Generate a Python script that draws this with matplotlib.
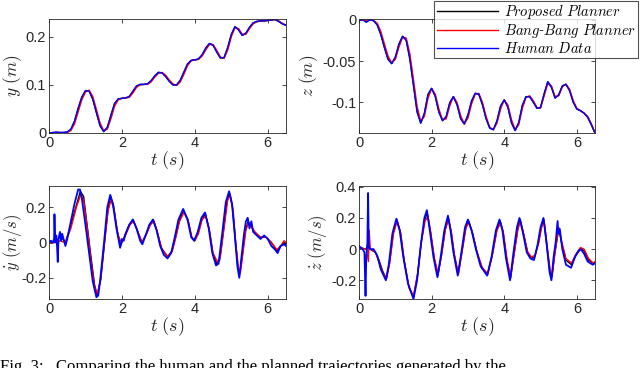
import matplotlib
matplotlib.use("Agg")
import matplotlib.pyplot as plt
import numpy as np

plt.rcParams['mathtext.fontset'] = 'cm'
plt.rcParams['font.family'] = ['Liberation Sans', 'DejaVu Sans']

# ---- position data (0.1 s grid) ----
t_pos = [round(0.1 * i, 1) for i in range(66)]

y_human = [0.000, 0.001, 0.002, 0.001, 0.001, 0.002, 0.008, 0.025, 0.052, 0.075,
           0.088, 0.087, 0.070, 0.042, 0.015, 0.003, 0.012, 0.038, 0.062, 0.071,
           0.072, 0.073, 0.076, 0.087, 0.098, 0.101, 0.101, 0.102, 0.109, 0.119,
           0.126, 0.125, 0.117, 0.107, 0.100, 0.100, 0.110, 0.127, 0.144, 0.151,
           0.152, 0.154, 0.163, 0.177, 0.186, 0.182, 0.168, 0.156, 0.157, 0.178,
           0.205, 0.221, 0.214, 0.203, 0.208, 0.220, 0.229, 0.232, 0.233, 0.233,
           0.234, 0.235, 0.236, 0.232, 0.227, 0.224]
y_prop = [0.000, 0.001, 0.001, 0.001, 0.001, 0.002, 0.007, 0.024, 0.050, 0.074,
          0.088, 0.088, 0.071, 0.043, 0.016, 0.003, 0.011, 0.036, 0.061, 0.071,
          0.072, 0.073, 0.075, 0.086, 0.097, 0.101, 0.101, 0.102, 0.108, 0.118,
          0.126, 0.125, 0.118, 0.108, 0.100, 0.100, 0.109, 0.126, 0.143, 0.151,
          0.152, 0.154, 0.162, 0.176, 0.186, 0.183, 0.169, 0.156, 0.156, 0.176,
          0.204, 0.221, 0.215, 0.203, 0.207, 0.219, 0.229, 0.232, 0.233, 0.233,
          0.234, 0.235, 0.236, 0.232, 0.227, 0.224]
y_bb = [0.000, 0.000, 0.001, 0.001, 0.001, 0.001, 0.005, 0.019, 0.044, 0.069,
        0.085, 0.089, 0.076, 0.049, 0.021, 0.005, 0.008, 0.030, 0.056, 0.069,
        0.072, 0.073, 0.074, 0.083, 0.095, 0.100, 0.101, 0.101, 0.106, 0.116,
        0.124, 0.126, 0.120, 0.110, 0.102, 0.099, 0.106, 0.122, 0.140, 0.150,
        0.152, 0.153, 0.160, 0.173, 0.184, 0.184, 0.172, 0.158, 0.155, 0.172,
        0.200, 0.219, 0.217, 0.205, 0.205, 0.217, 0.227, 0.231, 0.233, 0.233,
        0.234, 0.235, 0.236, 0.233, 0.228, 0.224]

z_human = [0.000, 0.000, -0.003, 0.000, -0.001, -0.006, -0.018, -0.034, -0.048, -0.053,
           -0.045, -0.029, -0.020, -0.025, -0.048, -0.080, -0.112, -0.125, -0.113, -0.090,
           -0.083, -0.093, -0.112, -0.122, -0.117, -0.100, -0.093, -0.103, -0.120, -0.126,
           -0.115, -0.098, -0.089, -0.090, -0.103, -0.120, -0.131, -0.133, -0.122, -0.104,
           -0.097, -0.106, -0.125, -0.134, -0.124, -0.103, -0.093, -0.093, -0.100, -0.107,
           -0.106, -0.089, -0.075, -0.082, -0.095, -0.091, -0.080, -0.078, -0.086, -0.100,
           -0.108, -0.110, -0.113, -0.118, -0.127, -0.137]
z_prop = [0.000, 0.000, -0.002, 0.000, -0.001, -0.006, -0.017, -0.033, -0.047, -0.053,
          -0.046, -0.030, -0.020, -0.024, -0.046, -0.078, -0.110, -0.125, -0.114, -0.091,
          -0.083, -0.092, -0.111, -0.122, -0.118, -0.101, -0.093, -0.102, -0.119, -0.126,
          -0.116, -0.099, -0.089, -0.090, -0.102, -0.119, -0.131, -0.133, -0.123, -0.105,
          -0.097, -0.105, -0.124, -0.134, -0.125, -0.104, -0.093, -0.093, -0.099, -0.107,
          -0.106, -0.090, -0.075, -0.081, -0.094, -0.091, -0.080, -0.078, -0.085, -0.099,
          -0.108, -0.110, -0.113, -0.118, -0.127, -0.137]
z_bb = [0.000, 0.000, -0.001, 0.000, -0.001, -0.004, -0.014, -0.029, -0.044, -0.052,
        -0.048, -0.033, -0.021, -0.022, -0.041, -0.072, -0.105, -0.123, -0.117, -0.095,
        -0.083, -0.090, -0.108, -0.121, -0.120, -0.104, -0.093, -0.100, -0.116, -0.126,
        -0.119, -0.102, -0.090, -0.089, -0.100, -0.117, -0.130, -0.133, -0.125, -0.108,
        -0.097, -0.103, -0.121, -0.133, -0.127, -0.107, -0.094, -0.092, -0.098, -0.106,
        -0.107, -0.092, -0.077, -0.080, -0.093, -0.092, -0.081, -0.078, -0.084, -0.098,
        -0.107, -0.110, -0.113, -0.117, -0.126, -0.137]

# ---- velocity data (key points) ----
t_ydh = [0.00, 0.05, 0.10, 0.14, 0.15, 0.17, 0.20, 0.22, 0.24, 0.26, 0.30, 0.33, 0.36,
         0.40, 0.45, 0.50, 0.60, 0.70, 0.80, 0.85, 0.90, 1.00, 1.10, 1.20, 1.30, 1.35,
         1.40, 1.50, 1.60, 1.68, 1.75, 1.85, 1.95, 2.00, 2.05, 2.10, 2.20, 2.30, 2.40,
         2.50, 2.56, 2.65, 2.75, 2.85, 2.95, 3.05, 3.15, 3.25, 3.35, 3.45, 3.55, 3.68,
         3.80, 3.90, 3.98, 4.08, 4.18, 4.28, 4.38, 4.48, 4.58, 4.65, 4.75, 4.85, 4.94,
         5.02, 5.10, 5.17, 5.22, 5.28, 5.35, 5.40, 5.45, 5.50, 5.55, 5.60, 5.70, 5.80,
         5.90, 6.00, 6.10, 6.20, 6.27, 6.35, 6.45, 6.50]
yd_human = [0.00, 0.01, 0.00, 0.02, 0.16, 0.00, 0.04, -0.02, -0.11, 0.02, 0.06, 0.01, 0.05,
            0.02, -0.02, 0.02, 0.12, 0.22, 0.30, 0.30, 0.25, 0.10, -0.06, -0.22, -0.31, -0.30,
            -0.22, -0.02, 0.20, 0.27, 0.22, 0.08, -0.03, 0.02, 0.01, 0.05, 0.10, 0.13, 0.08,
            0.01, -0.01, 0.04, 0.10, 0.13, 0.07, -0.02, -0.07, -0.09, -0.06, 0.03, 0.13, 0.19,
            0.13, 0.03, 0.01, 0.06, 0.14, 0.17, 0.08, -0.06, -0.13, -0.12, 0.05, 0.23, 0.29,
            0.22, 0.03, -0.14, -0.20, -0.08, 0.05, 0.12, 0.14, 0.08, 0.12, 0.06, 0.04, 0.02,
            0.04, 0.02, -0.02, -0.04, -0.06, -0.02, -0.01, -0.02]

t_ydp = [0.00, 0.20, 0.30, 0.38, 0.45, 0.60, 0.75, 0.86, 0.95, 1.05, 1.15, 1.25, 1.32,
         1.42, 1.52, 1.62, 1.69, 1.77, 1.87, 1.96, 2.08, 2.20, 2.30, 2.40, 2.55, 2.67,
         2.77, 2.86, 2.97, 3.08, 3.25, 3.37, 3.47, 3.57, 3.69, 3.81, 3.91, 3.99, 4.09,
         4.19, 4.29, 4.39, 4.49, 4.60, 4.68, 4.78, 4.88, 4.95, 5.03, 5.11, 5.18, 5.23,
         5.30, 5.38, 5.46, 5.55, 5.65, 5.80, 5.95, 6.10, 6.26, 6.36, 6.45, 6.50]
yd_prop = [0.00, 0.01, 0.03, 0.02, 0.00, 0.10, 0.21, 0.29, 0.26, 0.09, -0.08, -0.24, -0.30,
           -0.21, -0.01, 0.19, 0.26, 0.21, 0.07, -0.02, 0.04, 0.10, 0.13, 0.08, 0.00, 0.05,
           0.10, 0.13, 0.06, -0.03, -0.08, -0.05, 0.03, 0.12, 0.18, 0.13, 0.03, 0.01, 0.06,
           0.13, 0.16, 0.08, -0.06, -0.12, -0.10, 0.06, 0.23, 0.28, 0.20, 0.02, -0.14, -0.18,
           -0.07, 0.06, 0.12, 0.09, 0.05, 0.03, 0.03, 0.00, -0.05, -0.02, 0.00, -0.01]

t_ydb = [0.00, 0.20, 0.30, 0.45, 0.60, 0.75, 0.87, 0.95, 1.05, 1.15, 1.25, 1.33, 1.42,
         1.52, 1.62, 1.70, 1.78, 1.88, 1.98, 2.10, 2.22, 2.32, 2.42, 2.55, 2.68, 2.78,
         2.88, 2.98, 3.10, 3.25, 3.38, 3.48, 3.58, 3.70, 3.82, 3.92, 4.00, 4.10, 4.20,
         4.30, 4.40, 4.50, 4.62, 4.70, 4.80, 4.90, 4.97, 5.05, 5.12, 5.20, 5.25, 5.32,
         5.40, 5.47, 5.55, 5.65, 5.80, 5.95, 6.10, 6.25, 6.35, 6.45, 6.50]
yd_bb = [0.00, 0.00, 0.01, 0.00, 0.08, 0.20, 0.27, 0.24, 0.08, -0.10, -0.25, -0.29, -0.20,
         0.00, 0.18, 0.24, 0.19, 0.05, 0.00, 0.04, 0.10, 0.12, 0.07, 0.00, 0.05, 0.10,
         0.12, 0.05, -0.04, -0.08, -0.05, 0.03, 0.12, 0.17, 0.12, 0.03, 0.01, 0.05, 0.13,
         0.15, 0.07, -0.06, -0.11, -0.08, 0.08, 0.24, 0.27, 0.18, 0.00, -0.15, -0.17, -0.06,
         0.07, 0.11, 0.09, 0.06, 0.03, 0.03, 0.00, -0.04, -0.02, 0.01, 0.00]

t_zdh = [0.00, 0.05, 0.10, 0.15, 0.18, 0.20, 0.23, 0.25, 0.27, 0.32, 0.40, 0.50, 0.60,
         0.74, 0.82, 0.92, 1.03, 1.12, 1.22, 1.35, 1.50, 1.60, 1.70, 1.80, 1.87, 1.95,
         2.05, 2.16, 2.25, 2.35, 2.45, 2.52, 2.60, 2.72, 2.82, 2.92, 3.00, 3.10, 3.22,
         3.35, 3.53, 3.65, 3.77, 3.87, 3.95, 4.05, 4.16, 4.25, 4.35, 4.42, 4.52, 4.62,
         4.72, 4.82, 4.92, 5.00, 5.08, 5.16, 5.25, 5.30, 5.36, 5.42, 5.47, 5.49, 5.53,
         5.60, 5.70, 5.84, 5.95, 6.05, 6.11, 6.20, 6.30, 6.44, 6.50]
zd_human = [0.02, 0.01, 0.00, -0.02, -0.30, -0.05, 0.02, 0.36, 0.01, 0.00, 0.00, -0.04, -0.13,
            -0.20, -0.10, 0.10, 0.195, 0.12, -0.05, -0.22, -0.32, -0.20, 0.02, 0.20, 0.25, 0.12,
            -0.05, -0.18, -0.05, 0.12, 0.215, 0.12, -0.02, -0.17, -0.02, 0.14, 0.19, 0.12, 0.00,
            -0.11, -0.17, -0.05, 0.12, 0.19, 0.12, -0.06, -0.20, -0.03, 0.14, 0.20, 0.10, -0.02,
            -0.06, -0.07, 0.03, 0.14, 0.20, 0.05, -0.15, -0.20, -0.05, 0.05, 0.18, 0.10, 0.13,
            0.00, -0.10, -0.12, -0.05, -0.01, 0.00, -0.03, -0.08, -0.10, -0.09]

t_zdp = [0.00, 0.20, 0.27, 0.30, 0.45, 0.55, 0.65, 0.75, 0.84, 0.94, 1.04, 1.14, 1.24,
         1.37, 1.50, 1.61, 1.71, 1.81, 1.88, 1.97, 2.07, 2.17, 2.27, 2.37, 2.46, 2.54,
         2.62, 2.73, 2.84, 2.94, 3.02, 3.12, 3.24, 3.38, 3.54, 3.67, 3.79, 3.89, 3.97,
         4.07, 4.17, 4.27, 4.37, 4.44, 4.54, 4.64, 4.74, 4.84, 4.94, 5.02, 5.09, 5.17,
         5.26, 5.31, 5.39, 5.50, 5.58, 5.70, 5.85, 5.97, 6.10, 6.20, 6.32, 6.45, 6.50]
zd_prop = [0.01, 0.00, 0.06, 0.00, -0.02, -0.07, -0.14, -0.19, -0.09, 0.10, 0.19, 0.11, -0.07,
           -0.24, -0.31, -0.17, 0.04, 0.19, 0.23, 0.11, -0.06, -0.17, -0.04, 0.12, 0.20, 0.11,
           -0.03, -0.16, -0.01, 0.14, 0.18, 0.11, -0.01, -0.12, -0.16, -0.04, 0.12, 0.18, 0.11,
           -0.07, -0.19, -0.03, 0.13, 0.19, 0.09, -0.02, -0.06, -0.05, 0.04, 0.14, 0.19, 0.03,
           -0.15, -0.18, -0.03, 0.13, 0.04, -0.07, -0.10, -0.04, 0.00, -0.01, -0.07, -0.09, -0.09]

t_zdb = [0.00, 0.20, 0.26, 0.28, 0.31, 0.45, 0.55, 0.65, 0.76, 0.85, 0.95, 1.05, 1.15,
         1.25, 1.38, 1.50, 1.62, 1.72, 1.82, 1.90, 1.98, 2.08, 2.18, 2.28, 2.38, 2.47,
         2.55, 2.63, 2.74, 2.85, 2.95, 3.03, 3.13, 3.25, 3.40, 3.55, 3.68, 3.80, 3.90,
         3.98, 4.08, 4.18, 4.28, 4.38, 4.45, 4.55, 4.65, 4.75, 4.85, 4.95, 5.03, 5.10,
         5.18, 5.27, 5.32, 5.40, 5.50, 5.58, 5.70, 5.85, 5.98, 6.10, 6.20, 6.32, 6.45, 6.50]
zd_bb = [0.01, 0.00, -0.08, 0.12, 0.00, -0.02, -0.08, -0.15, -0.19, -0.08, 0.10, 0.18, 0.10,
         -0.08, -0.25, -0.30, -0.15, 0.05, 0.18, 0.21, 0.10, -0.06, -0.16, -0.03, 0.13, 0.19,
         0.10, -0.04, -0.16, 0.00, 0.14, 0.17, 0.10, -0.02, -0.12, -0.16, -0.03, 0.12, 0.17,
         0.10, -0.07, -0.18, -0.02, 0.13, 0.18, 0.08, -0.02, -0.05, -0.04, 0.04, 0.14, 0.18,
         0.02, -0.14, -0.17, -0.02, 0.14, 0.05, -0.06, -0.09, -0.03, 0.01, 0.00, -0.06, -0.09, -0.08]

labels = ['$Proposed\\ Planner$', '$Bang$-$Bang\\ Planner$', '$Human\\ Data$']
x_ticks = [0, 2, 4, 6]

W, H = 640, 368
fig = plt.figure(figsize=(W / 100, H / 100), dpi=100)


def make_ax(x0, x1, y0, y1):
    ax = fig.add_axes([x0 / W, 1 - y1 / H, (x1 - x0) / W, (y1 - y0) / H])
    ax.tick_params(direction='in', top=True, right=True, length=3, width=0.6,
                   labelsize=10.5, colors='0.15', pad=2)
    for s in ax.spines.values():
        s.set_color('0.15')
        s.set_linewidth(0.6)
    ax.set_xlim(0, 6.5)
    ax.set_xticks(x_ticks)
    ax.set_xticklabels([str(v) for v in x_ticks])
    ax.set_xlabel('$t\\ (s)$', fontsize=13, color='0.15', labelpad=0)
    return ax


ax1 = make_ax(49, 286, 19, 133)
ax1.plot(t_pos, y_prop, color='k', lw=1.0)
ax1.plot(t_pos, y_bb, color='r', lw=1.0)
ax1.plot(t_pos, y_human, color='b', lw=1.0)
ax1.set_ylim(0, 0.237)
ax1.set_yticks([0, 0.1, 0.2])
ax1.set_yticklabels(['0', '0.1', '0.2'])
ax1.set_ylabel('$y\\ (m)$', fontsize=12.5, color='0.15', va='center')
ax1.yaxis.set_label_coords(-0.155, 0.5)

ax2 = make_ax(359, 595, 19, 133)
l1, = ax2.plot(t_pos, z_prop, color='k', lw=1.0)
l2, = ax2.plot(t_pos, z_bb, color='r', lw=1.0)
l3, = ax2.plot(t_pos, z_human, color='b', lw=1.0)
ax2.set_ylim(-0.137, 0.001)
ax2.set_yticks([-0.1, -0.05, 0])
ax2.set_yticklabels(['-0.1', '-0.05', '0'])
ax2.set_ylabel('$z\\ (m)$', fontsize=12.5, color='0.15', va='center')
ax2.yaxis.set_label_coords(-0.215, 0.5)

ax3 = make_ax(49, 286, 186, 299)
ax3.plot(t_ydp, yd_prop, color='k', lw=1.0)
ax3.plot(t_ydb, yd_bb, color='r', lw=1.0)
ax3.plot(t_ydh, yd_human, color='b', lw=1.3)
ax3.set_ylim(-0.32, 0.32)
ax3.set_yticks([-0.2, 0, 0.2])
ax3.set_yticklabels(['-0.2', '0', '0.2'])
ax3.set_ylabel('$\\dot{y}\\ (m/s)$', fontsize=12, color='0.15', va='center')
ax3.yaxis.set_label_coords(-0.155, 0.5)

ax4 = make_ax(359, 595, 186, 299)
ax4.plot(t_zdp, zd_prop, color='k', lw=1.0)
ax4.plot(t_zdb, zd_bb, color='r', lw=1.0)
ax4.plot(t_zdh, zd_human, color='b', lw=1.3)
ax4.set_ylim(-0.32, 0.405)
ax4.set_yticks([-0.2, 0, 0.2, 0.4])
ax4.set_yticklabels(['-0.2', '0', '0.2', '0.4'])
ax4.set_ylabel('$\\dot{z}\\ (m/s)$', fontsize=12, color='0.15', va='center')
ax4.yaxis.set_label_coords(-0.175, 0.5)

leg = fig.legend([l1, l2, l3], labels, loc='upper right',
                 bbox_to_anchor=(638 / W, 1 - 1 / H),
                 prop={'family': 'DejaVu Serif', 'size': 10.5, 'style': 'italic'},
                 frameon=True, fancybox=False, handlelength=4.2,
                 borderpad=0.15, labelspacing=0.05, handletextpad=0.4,
                 borderaxespad=0)
leg.get_frame().set_edgecolor('0.15')
leg.get_frame().set_linewidth(0.8)

fig.text(0.0, -3 / H, 'Fig. 3:   Comparing the human and the planned trajectories generated by the',
         fontsize=12, family='Liberation Serif', ha='left', va='baseline')

fig.savefig('out.png', dpi=100)
